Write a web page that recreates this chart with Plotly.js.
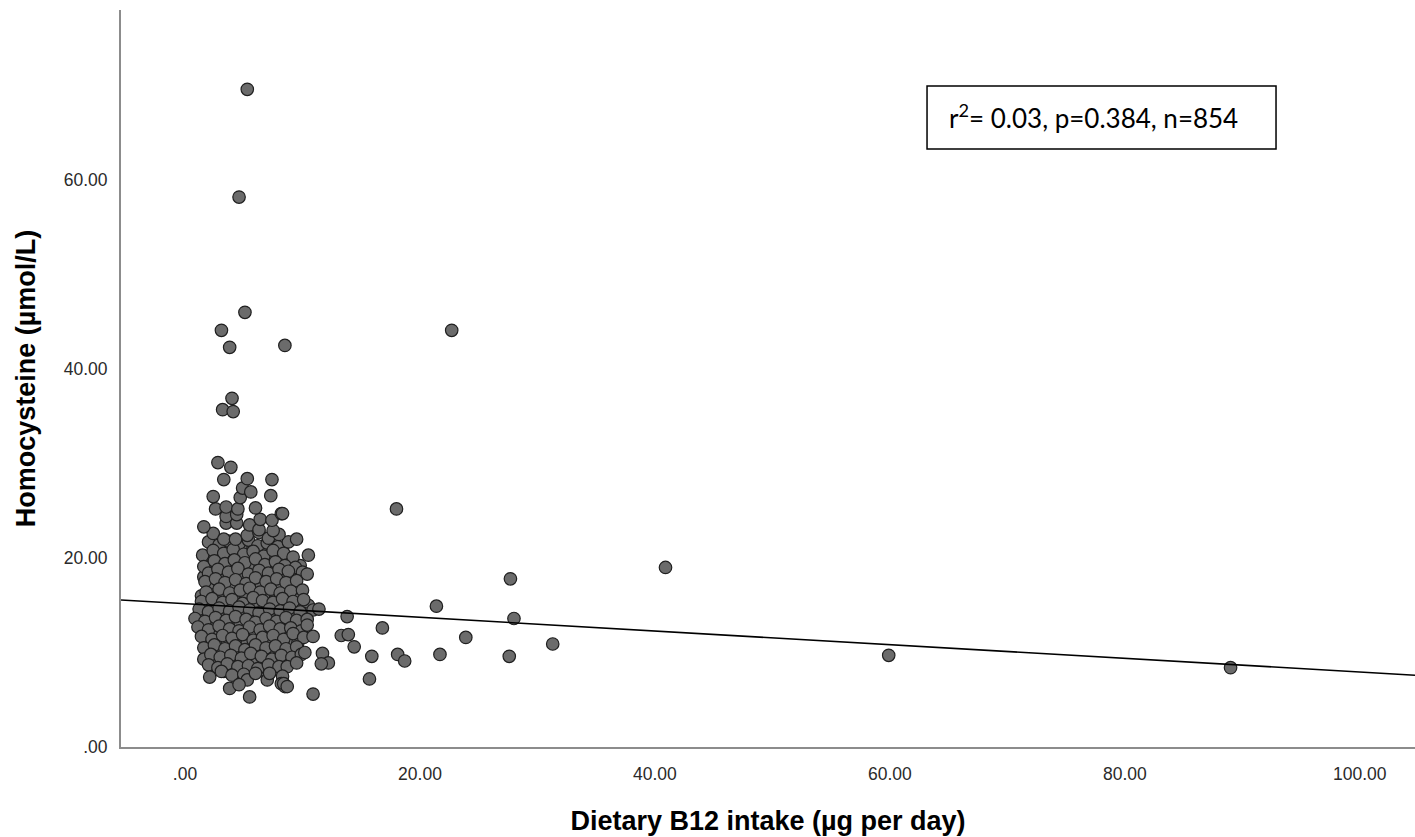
<!DOCTYPE html>
<html>
<head>
<meta charset="utf-8">
<script src="https://cdn.plot.ly/plotly-3.0.1.min.js"></script>
<style>
  html, body { margin: 0; padding: 0; background: #ffffff; }
  #chart { width: 1415px; height: 837px; }
</style>
</head>
<body>
<div id="chart"></div>
<script>
// ---- Data ----
// Dense cluster: dietary B12 intake (µg/day) and homocysteine (µmol/L)
const clusterB12 = [
  2.0,2.9,3.7,4.6,5.4,6.2,7.0,7.9,8.8,
  1.5,2.4,3.3,4.1,5.0,5.8,6.7,7.5,8.4,9.2,10.5,
  1.6,2.5,3.4,4.2,5.1,6.0,6.8,7.7,8.5,9.4,
  2.0,2.8,3.7,4.5,5.4,6.3,7.1,8.0,8.8,10.0,10.4,
  1.7,2.6,3.4,4.3,5.2,6.0,6.9,7.8,8.6,9.5,
  1.8,2.9,3.8,4.7,5.5,6.4,7.3,8.1,9.0,10.0,
  1.4,2.3,3.2,4.0,4.9,5.8,6.6,7.5,8.3,9.2,10.1,
  1.2,2.0,2.9,3.8,4.6,5.5,6.3,7.2,8.1,8.9,9.8,10.9,11.4,
  0.85,1.7,2.6,3.5,4.3,5.2,6.0,6.9,7.8,8.6,9.5,10.4,
  1.1,2.0,2.9,3.8,4.6,5.5,6.4,7.2,8.1,9.0,9.9,10.4,
  1.4,2.3,3.2,4.0,4.9,5.8,6.6,7.5,8.4,9.2,10.1,10.9,
  1.6,2.5,3.4,4.3,5.1,6.0,6.9,7.7,8.6,9.5,
  1.6,2.2,3.0,3.9,4.8,5.6,6.5,7.4,8.2,9.1,9.9,10.2,11.7,
  2.0,2.8,3.6,4.5,5.4,6.2,7.1,8.0,8.7,9.5,12.2,11.6,
  2.1,3.1,4.0,5.0,5.3,6.0,7.0,7.2,8.3,
  3.8,4.6,5.5,8.2,8.5,8.4,8.7,10.9,
  2.4,3.3,4.3,5.3,6.3,7.1,8.0,9.5,
  1.6,3.5,4.4,5.5,6.3,7.5,
  3.5,4.4,6.4,7.4,8.2,8.3,
  2.6,3.5,4.5,6.0,
  2.4,4.7,7.3,
  4.9,5.6,
  3.3,5.3,7.4,
  3.9,2.8
];
const clusterHcy = [
  21.7,21.4,21.8,21.5,21.9,21.3,21.6,21.2,21.7,
  20.3,20.8,20.5,20.9,20.4,20.7,20.2,20.8,20.5,20.1,20.3,
  19.1,19.7,19.4,19.8,19.5,19.9,19.3,19.6,19.2,19.0,
  18.4,18.8,18.5,18.9,18.3,18.7,18.4,18.8,18.6,18.5,18.3,
  17.5,17.8,17.4,17.7,17.3,17.9,17.5,17.8,17.4,17.6,
  16.4,16.7,16.3,16.6,16.8,16.4,16.7,16.3,16.5,16.6,
  15.4,15.7,15.3,15.6,15.2,15.8,15.5,15.3,15.7,15.4,15.6,
  14.6,14.3,14.7,14.4,14.8,14.5,14.2,14.6,14.4,14.7,14.3,14.5,14.6,
  13.6,13.3,13.7,13.4,13.8,13.5,13.2,13.6,13.3,13.7,13.4,13.5,
  12.7,12.4,12.8,12.5,12.3,12.7,12.4,12.8,12.5,12.6,12.3,12.9,
  11.7,11.4,11.8,11.5,11.9,11.3,11.6,11.8,11.4,12.0,11.6,11.7,
  10.5,10.8,10.4,10.7,10.3,10.8,10.5,10.7,10.4,10.6,
  9.3,9.8,9.5,9.7,9.4,9.9,9.6,9.3,9.7,9.5,9.8,10.0,9.9,
  8.7,8.4,8.8,8.5,8.6,8.3,8.7,8.5,8.5,8.9,8.9,8.8,
  7.4,8.0,7.6,7.7,7.1,7.8,7.1,7.8,7.5,
  6.2,6.6,5.3,6.7,6.4,6.7,6.4,5.6,
  22.6,22.0,22.0,22.4,22.7,22.1,22.5,22.0,
  23.3,23.7,23.7,23.5,23.0,22.9,
  24.4,24.6,24.1,24.0,24.7,24.7,
  25.2,25.4,25.2,25.3,
  26.5,26.4,26.6,
  27.4,27.0,
  28.3,28.4,28.3,
  29.6,30.1
];
// Second layer of the crowded core (cases hidden between the ones above)
const coreB12 = [
  2.4,3.3,4.2,5.0,5.8,6.6,7.4,8.3,
  2.0,2.9,3.7,4.6,5.4,6.3,7.1,8.0,8.8,
  2.1,3.0,3.8,4.7,5.5,6.4,7.3,8.1,9.0,9.8,
  1.6,2.4,3.3,4.1,5.0,5.8,6.7,7.5,8.4,9.2,
  2.2,3.0,3.9,4.8,5.6,6.5,7.3,8.2,9.1,
  1.4,2.4,3.3,4.2,5.1,6.0,6.8,7.7,8.6,9.5,
  1.8,2.7,3.6,4.4,5.3,6.2,7.0,7.9,8.7,9.6,10.5,
  1.6,2.4,3.3,4.2,5.0,5.9,6.7,7.6,8.5,9.3,10.2,
  1.3,2.2,3.0,3.9,4.7,5.6,6.5,7.3,8.2,9.1,9.9,
  1.6,2.5,3.4,4.2,5.1,6.0,6.8,7.7,8.6,9.5,
  1.9,2.7,3.6,4.5,5.3,6.2,7.1,7.9,8.8,9.6,
  2.0,2.9,3.8,4.7,5.5,6.4,7.3,8.1,9.0,
  2.5,3.4,4.3,5.2,6.0,6.9,7.8,8.6,
  2.4,3.3,4.1,5.0,5.8,6.7,7.6
];
const coreHcy = [
  21.1,21.0,21.2,20.9,21.1,21.0,21.2,20.9,
  20.0,20.1,19.9,20.0,20.2,19.9,20.0,20.1,19.9,
  19.1,19.0,19.2,19.1,18.9,19.1,19.2,19.0,19.1,19.2,
  18.0,18.1,17.9,18.0,18.2,18.0,17.9,18.1,18.0,18.1,
  17.0,17.1,16.9,17.0,17.2,17.0,16.9,17.1,17.0,
  16.0,16.1,15.9,16.0,16.2,16.0,15.9,16.1,16.0,16.1,
  15.0,15.1,14.9,15.0,15.1,14.9,15.0,15.2,15.0,14.9,15.0,
  14.0,14.1,13.9,14.0,14.1,13.9,14.0,14.1,13.9,14.0,14.1,
  13.0,13.1,12.9,13.0,13.1,12.9,13.0,13.1,13.0,12.9,13.0,
  12.1,12.0,12.2,12.1,12.0,12.1,12.2,12.0,12.1,12.1,
  11.1,11.0,11.2,11.1,11.0,11.1,11.2,11.0,11.1,11.0,
  10.1,10.0,10.2,10.1,10.0,10.1,10.2,10.0,10.1,
  9.1,9.0,9.2,9.1,9.0,9.1,9.2,9.0,
  8.1,8.0,8.2,8.1,8.0,8.1,8.2
];
// Scattered / outlying cases
const outlierB12 = [5.3,4.6,5.1,3.1,3.8,8.5,4.0,3.2,4.1,22.7,18.0,27.7,21.4,28.0,13.8,16.8,23.9,31.3,13.3,13.9,14.4,15.9,18.1,18.7,21.7,27.6,15.7,40.9,59.9,89.0];
const outlierHcy = [69.6,58.2,46.0,44.1,42.3,42.5,36.9,35.7,35.5,44.1,25.2,17.8,14.9,13.6,13.8,12.6,11.6,10.9,11.8,11.9,10.6,9.6,9.8,9.1,9.8,9.6,7.2,19.0,9.7,8.4];

// Linear fit
const fitIntercept = 15.17;
const fitSlope = -0.0723;

// Axes
const xRange = [-5.45, 104.7];
const yRange = [0, 78];
const xTickVals = [0, 20, 40, 60, 80, 100];
const xTickText = [".00", "20.00", "40.00", "60.00", "80.00", "100.00"];
const yTickVals = [0, 20, 40, 60];
const yTickText = [".00", "20.00", "40.00", "60.00"];

const statsText = "r<sup>2</sup>= 0.03, p=0.384, n=854";

// ---- Traces ----
const allX = coreB12.concat(clusterB12, outlierB12);
const allY = coreHcy.concat(clusterHcy, outlierHcy);

const pointsTrace = {
  type: 'scatter',
  mode: 'markers',
  x: allX,
  y: allY,
  marker: {
    size: 12.5,
    color: '#6b6b6b',
    line: { color: '#1f1f1f', width: 1.2 }
  },
  hoverinfo: 'x+y',
  showlegend: false
};

const fitX = [xRange[0], xRange[1]];
const fitY = fitX.map(v => fitIntercept + fitSlope * v);
const fitTrace = {
  type: 'scatter',
  mode: 'lines',
  x: fitX,
  y: fitY,
  line: { color: '#000000', width: 1.6 },
  hoverinfo: 'skip',
  showlegend: false
};

const tickFont = { family: 'Liberation Sans, Arial, sans-serif', size: 17.5, color: '#2a2a2a' };
const titleFont = { family: 'Liberation Sans, Arial, sans-serif', size: 27, color: '#000000' };

const layout = {
  width: 1415,
  height: 837,
  margin: { l: 121, r: 0, t: 10, b: 90, pad: 0 },
  paper_bgcolor: '#ffffff',
  plot_bgcolor: '#ffffff',
  showlegend: false,
  xaxis: {
    range: xRange,
    tickvals: xTickVals,
    ticktext: xTickText,
    tickfont: tickFont,
    ticks: 'outside',
    ticklen: 10,
    tickcolor: 'rgba(0,0,0,0)',
    showgrid: false,
    zeroline: false,
    showline: true,
    linecolor: '#8c8c8c',
    linewidth: 2,
    title: { text: '<b>Dietary B12 intake (µg per day)</b>', font: titleFont, standoff: 28 },
    automargin: false,
    fixedrange: true
  },
  yaxis: {
    range: yRange,
    tickvals: yTickVals,
    ticktext: yTickText,
    tickfont: tickFont,
    ticks: 'outside',
    ticklen: 8,
    tickcolor: 'rgba(0,0,0,0)',
    showgrid: false,
    zeroline: false,
    showline: true,
    linecolor: '#8c8c8c',
    linewidth: 2,
    title: { text: '<b>Homocysteine (µmol/L)</b>', font: titleFont, standoff: 20 },
    automargin: false,
    fixedrange: true
  },
  shapes: [{
    type: 'rect',
    xref: 'paper', yref: 'paper',
    x0: 0.6229, x1: 0.8926, y0: 0.8114, y1: 0.8969,
    line: { color: '#000000', width: 1.5 },
    fillcolor: 'rgba(255,255,255,0)'
  }],
  annotations: [{
    xref: 'paper', yref: 'paper',
    x: 0.6383, y: 0.855,
    xanchor: 'left', yanchor: 'middle',
    text: statsText,
    showarrow: false,
    font: { family: 'Lato, Open Sans, sans-serif', size: 26, color: '#000000' }
  }]
};

Plotly.newPlot('chart', [pointsTrace, fitTrace], layout, { staticPlot: true, displayModeBar: false });
</script>
</body>
</html>
